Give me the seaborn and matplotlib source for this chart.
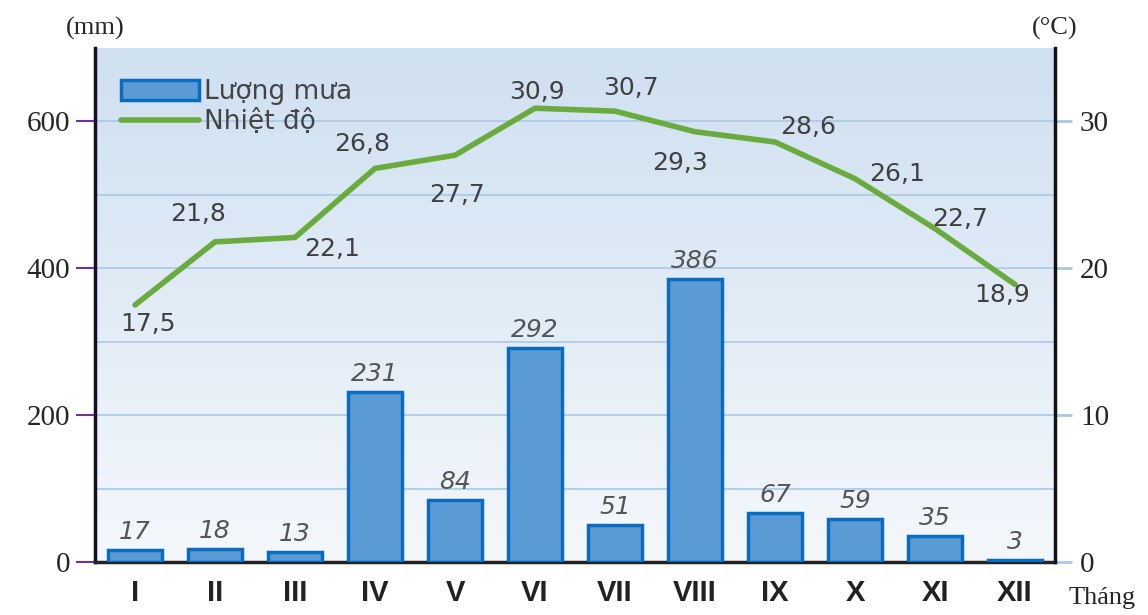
import numpy as np
import pandas as pd
import matplotlib
matplotlib.use("Agg")
import matplotlib.pyplot as plt
import seaborn as sns
from matplotlib.colors import LinearSegmentedColormap
from matplotlib.patches import Patch
from matplotlib.lines import Line2D

months = ["I", "II", "III", "IV", "V", "VI", "VII", "VIII", "IX", "X", "XI", "XII"]
rain = [17, 18, 13, 231, 84, 292, 51, 386, 67, 59, 35, 3]
temp = [17.5, 21.8, 22.1, 26.8, 27.7, 30.9, 30.7, 29.3, 28.6, 26.1, 22.7, 18.9]
temp_labels = ["17,5", "21,8", "22,1", "26,8", "27,7", "30,9", "30,7", "29,3", "28,6", "26,1", "22,7", "18,9"]

sns.set_theme(style="white")
plt.rcParams['font.family'] = ['DejaVu Sans']

SERIF = ["Liberation Serif", "DejaVu Serif"]

fig = plt.figure(figsize=(11.48, 6.15), dpi=100)
ax = fig.add_axes([95/1148, 1-562/615, (1055-95)/1148, (562-48)/615])

# gradient background
cmap = LinearSegmentedColormap.from_list("bg", ["#f4f8fc", "#cfe0f1"])
grad = np.linspace(0, 1, 256).reshape(-1, 1)
ax.imshow(grad, cmap=cmap, aspect="auto", extent=[0, 1, 0, 1],
          transform=ax.transAxes, origin="lower", zorder=0)

df = pd.DataFrame({"month": months, "rain": rain, "temp": temp})
sns.barplot(data=df, x="month", y="rain", ax=ax, color="#5b9bd5",
            edgecolor="#0a6cc0", linewidth=2.5, width=0.68, saturation=1, zorder=3)
ax.set_xlim(-0.5, 11.5)
ax.set_ylim(0, 700)
ax.set_yticks([0, 200, 400, 600])
for y in range(100, 700, 100):
    ax.axhline(y, color="#a9c8e6", lw=1.2, zorder=1)
ax.set_xlabel("")
ax.set_ylabel("")

for i, v in enumerate(rain):
    ax.annotate(str(v), (i, v), xytext=(0, 6), textcoords="offset pixels",
                ha="center", va="bottom", fontsize=18, style="italic", color="#555555", zorder=6)

ax.tick_params(axis="y", which="both", left=True, length=14, width=1.5, color="#7030a0",
               labelsize=21, pad=4)
ax.tick_params(axis="x", length=0, pad=12)
for lab in ax.get_yticklabels():
    lab.set_fontfamily(SERIF)
for lab in ax.get_xticklabels():
    lab.set_fontfamily(["Liberation Sans Narrow", "Liberation Sans", "DejaVu Sans"])
    lab.set_fontweight("bold")
    lab.set_fontsize(21)
    lab.set_color("#222222")

ax.spines["top"].set_visible(False)
ax.spines["left"].set_color("#1a0a2a")
ax.spines["left"].set_linewidth(2.5)
ax.spines["bottom"].set_color("#222222")
ax.spines["bottom"].set_linewidth(2.5)
ax.spines["right"].set_visible(False)

ax2 = ax.twinx()
sns.lineplot(data=df, x="month", y="temp", ax=ax2, color="#6aab3e", lw=4, zorder=5,
             sort=False, legend=False)
ax2.set_ylim(0, 35)
ax2.set_xlim(-0.5, 11.5)
ax2.set_yticks([0, 10, 20, 30])
ax2.set_ylabel("")
ax2.tick_params(axis="y", right=True, length=12, width=2, color="#a9c8e6", labelsize=21, pad=6)
for lab in ax2.get_yticklabels():
    lab.set_fontfamily(SERIF)
for side in ["top", "left", "bottom"]:
    ax2.spines[side].set_visible(False)
ax2.spines["right"].set_color("#111111")
ax2.spines["right"].set_linewidth(2.5)
ax2.grid(False)

offsets = [(13, -19), (-17, 28), (37, -12), (-13, 24), (2, -40), (2, 16),
           (16, 23), (-15, -31), (33, 15), (42, 5), (25, 10), (-13, -11)]
for i, (t, lab) in enumerate(zip(temp, temp_labels)):
    dx, dy = offsets[i]
    ax2.annotate(lab, (i, t), xytext=(dx, dy), textcoords="offset pixels",
                 ha="center", va="center", fontsize=18, color="#404040", zorder=7)

handles = [Patch(facecolor="#5b9bd5", edgecolor="#0a6cc0", linewidth=2.5),
           Line2D([0], [0], color="#6aab3e", lw=4)]
leg = ax2.legend(handles, ["Lượng mưa", "Nhiệt độ"], loc="upper left",
                 bbox_to_anchor=(0.008, 0.975), frameon=False, fontsize=19,
                 handlelength=2.95, handleheight=0.8, handletextpad=0.2,
                 labelspacing=0.15, labelcolor="#444444", borderaxespad=0.3)

fig.text(95/1148, 1-28/615, "(mm)", ha="center", va="center", fontsize=19, family=SERIF)
fig.text(1055/1148, 1-28/615, "(°C)", ha="center", va="center", fontsize=19, family=SERIF)
fig.text(1102/1148, 1-598/615, "Tháng", ha="center", va="center", fontsize=19, family=SERIF)

fig.savefig("out.png", dpi=100)
